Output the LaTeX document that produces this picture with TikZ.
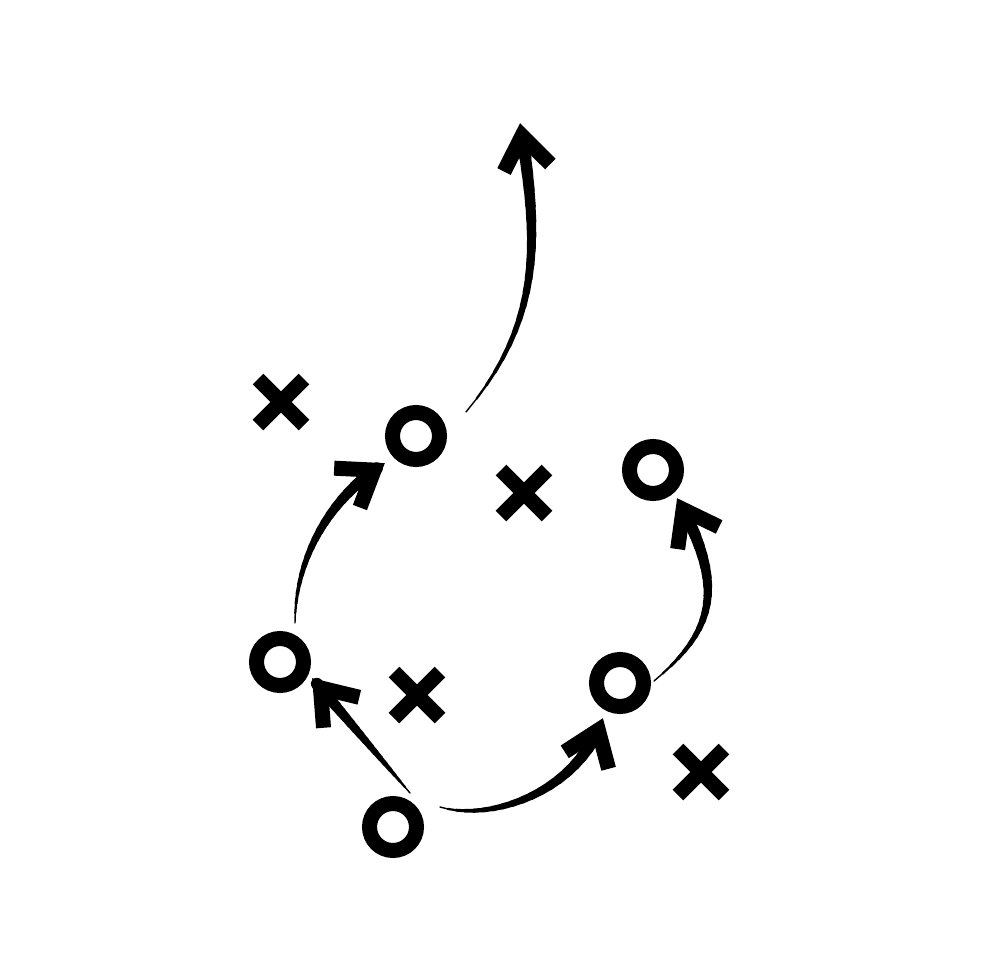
\documentclass[tikz,border=0pt]{standalone}
\usetikzlibrary{calc,shapes.misc}

\tikzset{
  ring/.style={circle, draw, line width=15pt, minimum size=47pt, inner sep=0pt},
  xmark/.style={cross out, draw, line width=15pt, minimum size=46pt, inner sep=0pt, outer sep=0pt},
  barb/.style={line width=15pt, miter limit=10},
}

\newcommand{\playroute}[1]{%
  \foreach \i in {0,...,20}
    \path #1 coordinate[pos=\i/20] (p\i);
  \foreach \i [remember=\i as \last (initially 0), evaluate=\i as \w using 0.3+12.2*(\i/20)^0.8] in {1,...,19}
    \draw[line width=\w pt, line cap=round] (p\last) -- (p\i);
  \coordinate (v) at ($(p20)!13pt!(p19)$);
  \coordinate (b) at ($(p20)!60pt!(p19)$);
  \draw[line width=12pt] (p19) -- (v);
  \draw[barb] ($(v)!40pt!36:(b)$) -- (v) -- ($(v)!40pt!-36:(b)$);
}

\begin{document}
\begin{tikzpicture}[x=1pt,y=-1pt]
    \useasboundingbox (0,0) rectangle (980,980);
    \node[ring] (o1) at (416,436) {};
    \node[ring] (o2) at (280,662) {};
    \node[ring] (o3) at (393,827) {};
    \node[ring] (o4) at (620,683) {};
    \node[ring] (o5) at (653,470) {};
    \node[xmark] (x1) at (281,402) {};
    \node[xmark] (x2) at (524,493) {};
    \node[xmark] (x3) at (417,695) {};
    \node[xmark] (x4) at (701,772) {};
    \coordinate (goal) at (520,123);

    \playroute{($(o1)+(50,-24)$) .. controls +(75,-90) and +(20,120) .. (goal)}
    \playroute{($(o2)+(15,-39)$) .. controls +(0,-65) and +(-55,34) .. ($(o1)+(-31,27)$)}
    \playroute{($(o3)+(17,-34)$) -- ($(o2)+(32,16)$)}
    \playroute{($(o3)+(47,-20)$) .. controls +(50,15) and +(-25,75) .. ($(o4)+(-17,35)$)}
    \playroute{($(o4)+(34,-2)$) .. controls +(60,-50) and +(50,90) .. ($(o5)+(24,28)$)}
\end{tikzpicture}
\end{document}
